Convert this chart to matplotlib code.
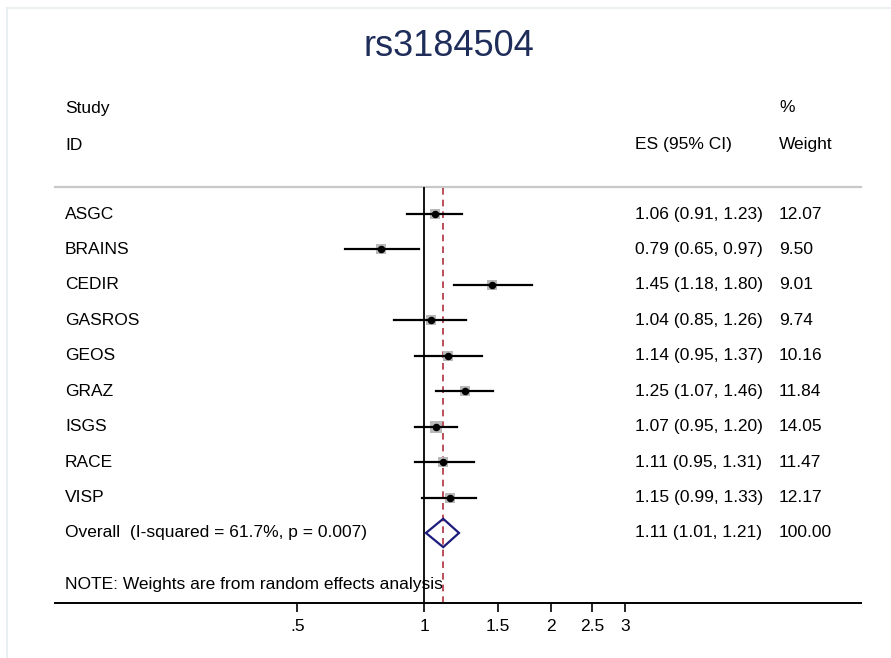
"""Forest plot for rs3184504 (random effects meta-analysis)."""

import matplotlib as mpl
import matplotlib.pyplot as plt
from matplotlib.patches import Polygon
from matplotlib.lines import Line2D
import matplotlib.transforms as mtransforms

mpl.rcParams.update({
    "font.family": ["Liberation Sans", "DejaVu Sans"],
    "font.size": 12.5,
})

STUDIES = ["ASGC", "BRAINS", "CEDIR", "GASROS", "GEOS", "GRAZ", "ISGS", "RACE", "VISP"]
ES = [1.06, 0.79, 1.45, 1.04, 1.14, 1.25, 1.07, 1.11, 1.15]
LOWER = [0.91, 0.65, 1.18, 0.85, 0.95, 1.07, 0.95, 0.95, 0.99]
UPPER = [1.23, 0.97, 1.80, 1.26, 1.37, 1.46, 1.20, 1.31, 1.33]
WEIGHTS = [12.07, 9.50, 9.01, 9.74, 10.16, 11.84, 14.05, 11.47, 12.17]

OVERALL_LABEL = "Overall  (I-squared = 61.7%, p = 0.007)"
OVERALL_ES, OVERALL_LO, OVERALL_HI = 1.11, 1.01, 1.21
NOTE = "NOTE: Weights are from random effects analysis"
XTICKS = [0.5, 1, 1.5, 2, 2.5, 3]
XTICKLABELS = [".5", "1", "1.5", "2", "2.5", "3"]

W, H = 891, 658


def px(x0, y0, x1, y1):
    # axes rect from pixel box (top-left origin)
    return [x0 / W, 1 - y1 / H, (x1 - x0) / W, (y1 - y0) / H]


fig = plt.figure(figsize=(W / 100, H / 100), dpi=100)

# faint outer frame
fig.add_artist(Line2D([7 / W, 1], [1 - 8 / H] * 2, color="#e6eef0", lw=1.2))
fig.add_artist(Line2D([7 / W] * 2, [1 - 8 / H, 0], color="#e6eef0", lw=1.2))

ax_x0, ax_x1 = 55, 861
ax = fig.add_axes(px(ax_x0, 187, ax_x1, 603))
ax.set_xscale("log")
ax.set_xlim(0.133, 10.89)
row_top, row_h = 214, 35.44
ax.set_ylim((603 - row_top) / row_h, -(row_top - 187) / row_h)

for s in ["top", "left", "right"]:
    ax.spines[s].set_visible(False)
ax.spines["bottom"].set_linewidth(1.4)
ax.set_xticks(XTICKS)
ax.set_xticklabels(XTICKLABELS)
ax.xaxis.set_minor_locator(mpl.ticker.NullLocator())
ax.tick_params(axis="x", direction="out", length=6.5, width=1.2, pad=5, labelsize=12.5)
ax.set_yticks([])

# header rule
ax.axhline(ax.get_ylim()[1], color="#c8c8c8", lw=1.6, clip_on=False)

# reference lines
ax.axvline(1, color="black", lw=1.3)
ax.axvline(OVERALL_ES, color="#b03040", lw=1.2, linestyle=(0, (4, 3)))

rows = list(range(len(STUDIES)))
for i, es, lo, hi, w in zip(rows, ES, LOWER, UPPER, WEIGHTS):
    ax.scatter([es], [i], s=w * 4.8, marker="s", color="#b8b8b8", zorder=2, linewidths=0)
    ax.plot([lo, hi], [i, i], color="black", lw=1.6, zorder=3)
    ax.plot([es], [i], marker="o", color="black", markersize=4.4, zorder=4)

ov = len(STUDIES)
dh = 0.4
ax.add_patch(Polygon(
    [(OVERALL_LO, ov), (OVERALL_ES, ov - dh), (OVERALL_HI, ov), (OVERALL_ES, ov + dh)],
    closed=True, fill=False, edgecolor="#1c1c7c", lw=1.6, zorder=5))

tr = mtransforms.blended_transform_factory(ax.transAxes, ax.transData)
span = ax_x1 - ax_x0
lab_x = (65 - ax_x0) / span
es_x = (635 - ax_x0) / span
wt_x = (779 - ax_x0) / span
for i, name, es, lo, hi, w in zip(rows, STUDIES, ES, LOWER, UPPER, WEIGHTS):
    ax.text(lab_x, i, name, transform=tr, va="center", ha="left")
    ax.text(es_x, i, f"{es:.2f} ({lo:.2f}, {hi:.2f})", transform=tr, va="center", ha="left")
    ax.text(wt_x, i, f"{w:.2f}", transform=tr, va="center", ha="left")

ax.text(lab_x, ov, OVERALL_LABEL, transform=tr, va="center", ha="left")
ax.text(es_x, ov, f"{OVERALL_ES:.2f} ({OVERALL_LO:.2f}, {OVERALL_HI:.2f})",
        transform=tr, va="center", ha="left")
ax.text(wt_x, ov, "100.00", transform=tr, va="center", ha="left")
ax.text(lab_x, (585 - row_top) / row_h, NOTE, transform=tr, va="center", ha="left")

# column headers
fig.text(65 / W, 1 - 108 / H, "Study", va="center", ha="left")
fig.text(65 / W, 1 - 145 / H, "ID", va="center", ha="left")
fig.text(635 / W, 1 - 145 / H, "ES (95% CI)", va="center", ha="left")
fig.text(779 / W, 1 - 108 / H, "%", va="center", ha="left")
fig.text(779 / W, 1 - 145 / H, "Weight", va="center", ha="left")

fig.text(449 / W, 1 - 47 / H, "rs3184504", va="center", ha="center",
         fontsize=26, color="#1e2d5a")

fig.savefig("out.png", dpi=100)
